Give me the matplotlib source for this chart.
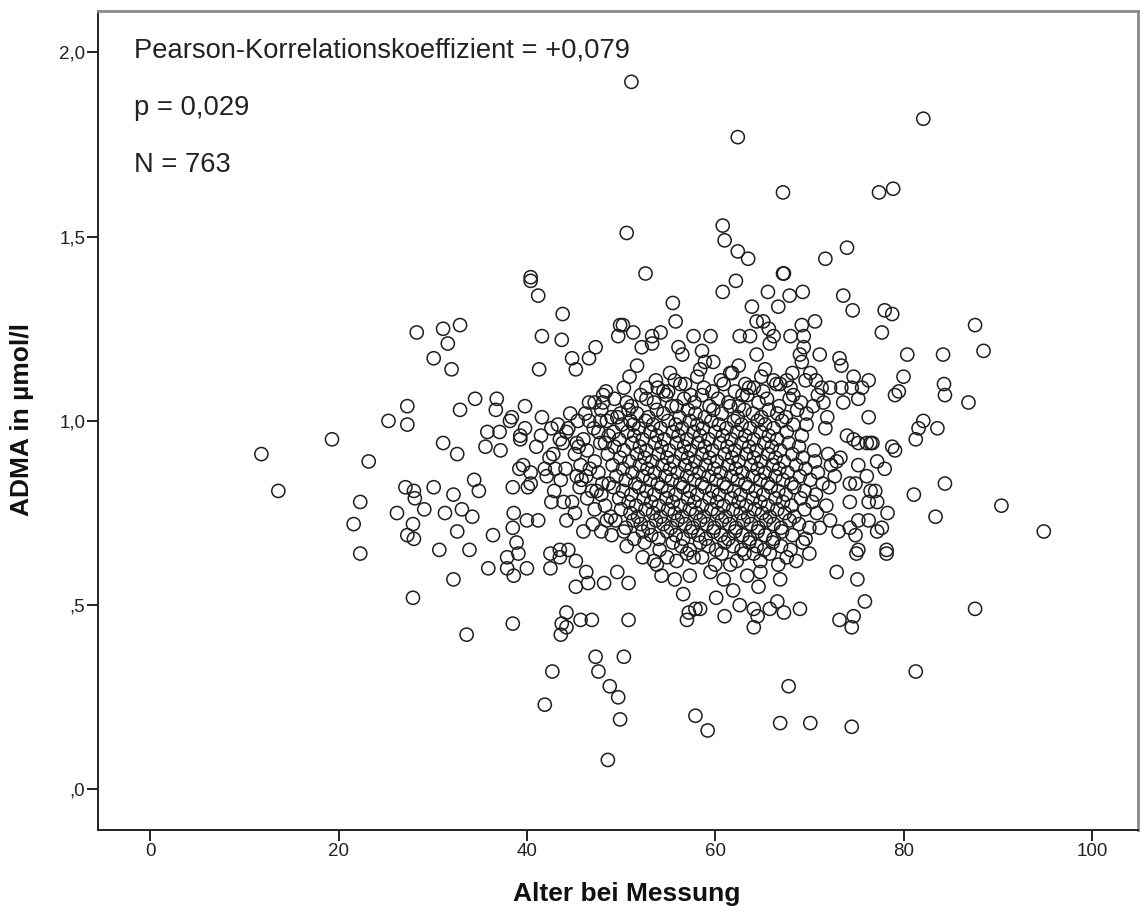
import matplotlib
matplotlib.use("Agg")
import matplotlib.pyplot as plt

plt.rcParams['font.family'] = ['Liberation Sans', 'DejaVu Sans']

# (Alter, ADMA) pairs, grouped by region of the cloud
jung = [
    (11.8, 0.91), (13.6, 0.81), (19.3, 0.95), (21.6, 0.72), (22.3, 0.78), (22.3, 0.64),
    (23.2, 0.89), (25.3, 1.00), (26.2, 0.75), (27.1, 0.82), (27.3, 1.04), (27.3, 0.99),
    (27.3, 0.69), (27.9, 0.72), (27.9, 0.52), (28.0, 0.81), (28.0, 0.68), (28.1, 0.79),
    (28.3, 1.24), (29.1, 0.76), (30.1, 1.17), (30.1, 0.82), (30.7, 0.65), (31.1, 1.25),
    (31.1, 0.94), (31.3, 0.75), (31.6, 1.21), (32.0, 1.14), (32.2, 0.80), (32.2, 0.57),
    (32.6, 0.91), (32.6, 0.70), (32.9, 1.26), (32.9, 1.03), (33.1, 0.76), (33.6, 0.42),
    (33.9, 0.65), (34.2, 0.74), (34.4, 0.84), (34.5, 1.06), (34.9, 0.81), (35.6, 0.93),
    (35.8, 0.97), (35.9, 0.60), (36.4, 0.69), (36.7, 1.03), (36.8, 1.06), (37.1, 0.97),
    (37.2, 0.92), (37.9, 0.63), (37.9, 0.60), (38.2, 1.00), (38.4, 1.01), (38.5, 0.82),
    (38.5, 0.71), (38.5, 0.45), (38.6, 0.75), (38.6, 0.58), (38.9, 0.67), (39.1, 0.64),
    (39.2, 0.87), (39.3, 0.96), (39.3, 0.95), (39.6, 0.88), (39.8, 1.04), (39.8, 0.98),
    (40.0, 0.73), (40.0, 0.60), (40.1, 0.82),
]

vierziger = [
    (40.4, 1.39), (40.4, 1.38), (41.2, 1.34), (41.6, 1.23), (43.8, 1.29), (43.7, 1.22),
    (41.3, 1.14), (44.8, 1.17), (45.2, 1.14), (46.6, 1.17), (47.3, 1.20), (49.9, 1.26),
    (49.7, 1.23), (46.6, 1.05), (48.1, 1.07), (48.1, 1.05), (46.2, 1.02), (46.6, 1.00),
    (47.8, 1.00), (41.6, 1.01), (42.6, 0.98), (44.4, 0.98), (43.5, 0.95), (45.3, 0.94),
    (45.5, 0.93), (42.8, 0.91), (47.8, 0.94), (49.2, 0.97), (49.6, 1.01), (49.9, 1.02),
    (40.4, 0.86), (40.4, 0.83), (41.9, 0.87), (42.1, 0.85), (44.1, 0.87), (45.3, 0.85),
    (45.8, 0.84), (46.7, 0.87), (42.6, 0.78), (44.8, 0.78), (46.9, 0.81), (47.4, 0.81),
    (48.7, 0.83), (41.2, 0.73), (44.2, 0.73), (46.0, 0.70), (47.9, 0.70), (48.5, 0.73),
    (43.5, 0.65), (44.4, 0.65), (42.5, 0.64), (42.5, 0.60), (43.5, 0.63), (45.2, 0.62),
    (46.3, 0.59), (45.2, 0.55), (46.5, 0.56), (48.2, 0.56), (49.6, 0.59), (44.2, 0.48),
    (43.7, 0.45), (44.2, 0.44), (43.6, 0.42), (45.7, 0.46), (46.9, 0.46), (47.3, 0.36),
    (47.6, 0.32), (42.7, 0.32), (48.8, 0.28), (49.7, 0.25), (41.9, 0.23), (49.9, 0.19),
    (48.6, 0.08),
]

fuenfziger_rand = [
    (51.1, 1.92), (50.6, 1.51), (52.6, 1.40), (55.5, 1.32), (55.8, 1.27), (50.2, 1.26),
    (51.3, 1.24), (53.3, 1.23), (54.2, 1.24), (57.7, 1.23), (59.5, 1.23), (52.2, 1.20),
    (53.3, 1.21), (51.7, 1.15), (56.1, 1.20), (56.5, 1.18), (58.6, 1.19), (58.9, 1.16),
    (59.8, 1.16), (58.4, 1.14), (52.7, 1.09), (54.5, 1.08), (55.7, 1.11), (50.6, 1.05),
    (51.3, 0.99), (50.8, 0.56), (50.8, 0.46), (50.3, 0.36), (53.5, 0.62), (54.9, 0.63),
    (53.8, 0.61), (54.3, 0.58), (55.7, 0.57), (56.6, 0.53), (57.3, 0.58), (57.7, 0.63),
    (57.2, 0.48), (57.0, 0.46), (58.4, 0.49), (57.9, 0.49), (57.9, 0.20), (59.2, 0.16),
    (59.5, 0.59), (60.1, 0.52),
]

sechziger_rand = [
    (62.4, 1.77), (67.2, 1.62), (60.8, 1.53), (61.0, 1.49), (62.4, 1.46), (63.5, 1.44),
    (67.2, 1.40), (67.3, 1.40), (60.8, 1.35), (62.2, 1.38), (71.7, 1.44), (74.0, 1.47),
    (65.6, 1.35), (67.9, 1.34), (69.3, 1.35), (66.7, 1.31), (63.9, 1.31), (73.6, 1.34),
    (74.6, 1.30), (64.4, 1.27), (65.1, 1.27), (65.7, 1.25), (69.2, 1.26), (70.6, 1.27),
    (62.6, 1.23), (63.7, 1.23), (66.2, 1.23), (68.0, 1.23), (69.4, 1.23), (65.8, 1.21),
    (69.4, 1.20), (69.0, 1.18), (69.2, 1.16), (64.4, 1.18), (62.5, 1.15), (65.3, 1.14),
    (61.6, 1.13), (62.1, 1.08), (64.1, 1.09), (66.2, 1.11), (67.6, 1.11), (68.3, 1.07),
    (69.6, 1.11), (70.1, 1.13), (60.9, 0.57), (61.0, 0.47), (61.9, 0.54), (63.4, 0.58),
    (64.8, 0.59), (64.6, 0.55), (62.6, 0.50), (64.1, 0.49), (64.5, 0.47), (64.1, 0.44),
    (65.8, 0.49), (66.9, 0.57), (66.6, 0.51), (67.3, 0.48), (69.0, 0.49), (61.6, 0.61),
    (64.1, 0.64), (67.8, 0.28), (66.9, 0.18), (70.1, 0.18),
]

alt = [
    (72.9, 0.59), (75.1, 0.57), (75.9, 0.51), (73.2, 0.46), (74.7, 0.47), (74.5, 0.44),
    (87.6, 0.49), (81.3, 0.32), (74.5, 0.17), (78.2, 0.64), (75.0, 0.64), (77.7, 1.24),
    (87.6, 1.26), (88.5, 1.19), (80.4, 1.18), (84.2, 1.18), (80.0, 1.12), (79.5, 1.08),
    (79.1, 1.07), (84.3, 1.10), (84.4, 1.07), (86.9, 1.05), (76.3, 1.01), (82.1, 1.00),
    (81.6, 0.98), (83.6, 0.98), (81.3, 0.95), (78.8, 0.93), (79.1, 0.92), (76.5, 0.94),
    (76.7, 0.94), (77.2, 0.89), (78.0, 0.87), (84.4, 0.83), (81.1, 0.80), (90.4, 0.77),
    (83.4, 0.74), (94.9, 0.70), (78.3, 0.75), (78.2, 0.65), (77.7, 0.71), (77.2, 0.70),
    (71.1, 1.18), (73.2, 1.17), (73.4, 1.15), (74.7, 1.12), (76.3, 1.11), (71.3, 1.09),
    (72.2, 1.09), (73.4, 1.09), (74.5, 1.09), (75.6, 1.09), (73.6, 1.05), (75.2, 1.06),
    (70.4, 1.04), (71.5, 1.05), (71.9, 1.01), (69.7, 1.02), (71.7, 0.98), (69.7, 0.99),
    (74.0, 0.96), (74.7, 0.95), (75.2, 0.94), (76.1, 0.94), (75.2, 0.88), (76.1, 0.85),
    (74.3, 0.83), (74.9, 0.83), (76.5, 0.81), (77.0, 0.81), (77.2, 0.78), (74.3, 0.78),
    (76.3, 0.78), (73.3, 0.90), (72.9, 0.89), (75.2, 0.73), (76.3, 0.73), (74.3, 0.71),
    (74.9, 0.69), (75.2, 0.65), (73.1, 0.70), (72.2, 0.73), (71.1, 0.71), (82.1, 1.82),
    (77.4, 1.62), (78.9, 1.63), (78.0, 1.30), (78.8, 1.29),
]

# dense core, upper part (ADMA 0.95 - 1.13)
kern_oben = [
    (50.9, 1.12), (53.7, 1.11), (55.2, 1.13), (56.8, 1.10), (58.1, 1.12), (60.6, 1.11),
    (61.8, 1.13), (63.2, 1.10), (64.9, 1.12), (66.5, 1.10), (68.2, 1.13), (70.7, 1.11),
    (48.4, 1.08), (50.3, 1.09), (52.1, 1.07), (53.9, 1.09), (55.0, 1.08), (56.3, 1.10),
    (57.4, 1.07), (58.8, 1.09), (59.7, 1.08), (60.9, 1.10), (62.9, 1.07), (63.6, 1.09),
    (65.1, 1.08), (66.9, 1.10), (68.0, 1.09), (70.9, 1.07),
    (47.2, 1.05), (49.3, 1.06), (51.1, 1.04), (52.7, 1.06), (53.5, 1.05), (54.8, 1.07),
    (55.9, 1.04), (56.7, 1.06), (57.8, 1.05), (58.6, 1.07), (59.4, 1.04), (60.3, 1.06),
    (61.4, 1.05), (62.5, 1.04), (63.4, 1.07), (64.6, 1.05), (65.5, 1.06), (66.8, 1.04),
    (67.9, 1.06), (69.1, 1.05),
    (44.6, 1.02), (47.9, 1.03), (49.0, 1.01), (50.8, 1.03), (51.7, 1.02), (52.9, 1.01),
    (53.8, 1.03), (54.5, 1.02), (55.4, 1.04), (56.2, 1.01), (57.1, 1.03), (57.9, 1.02),
    (58.9, 1.01), (59.8, 1.03), (60.7, 1.02), (61.6, 1.04), (62.4, 1.01), (63.1, 1.03),
    (64.0, 1.02), (64.9, 1.01), (65.7, 1.03), (66.6, 1.02), (67.5, 1.01), (68.7, 1.03),
    (43.3, 0.99), (45.4, 1.00), (47.1, 0.98), (48.5, 1.00), (50.1, 0.99), (51.0, 1.00),
    (51.9, 0.98), (52.6, 1.00), (53.4, 0.99), (54.2, 0.98), (55.0, 1.00), (55.8, 0.99),
    (56.5, 0.98), (57.3, 1.00), (58.1, 0.99), (58.7, 0.98), (59.6, 1.00), (60.4, 0.99),
    (61.2, 0.98), (62.0, 1.00), (62.8, 0.99), (63.7, 0.98), (64.5, 1.00), (65.3, 0.99),
    (66.2, 0.98), (67.1, 1.00), (68.3, 0.99),
    (41.5, 0.96), (44.2, 0.97), (46.0, 0.95), (47.6, 0.97), (48.7, 0.96), (49.8, 0.95),
    (50.7, 0.97), (51.4, 0.96), (52.3, 0.95), (53.1, 0.97), (53.8, 0.96), (54.6, 0.95),
    (55.5, 0.97), (56.1, 0.96), (57.0, 0.95), (57.7, 0.97), (58.4, 0.96), (59.3, 0.95),
    (60.0, 0.97), (60.8, 0.96), (61.7, 0.95), (62.3, 0.97), (63.2, 0.96), (64.1, 0.95),
    (64.8, 0.97), (65.7, 0.96), (66.6, 0.95), (67.6, 0.97), (69.2, 0.96),
]

# dense core, middle part (ADMA 0.80 - 0.95)
kern_mitte = [
    (41.0, 0.93), (43.8, 0.94), (46.4, 0.92), (48.3, 0.94), (49.3, 0.93), (50.3, 0.92),
    (51.2, 0.94), (52.0, 0.93), (52.7, 0.92), (53.6, 0.94), (54.3, 0.93), (55.1, 0.92),
    (55.9, 0.94), (56.7, 0.93), (57.4, 0.92), (58.2, 0.94), (58.9, 0.93), (59.7, 0.92),
    (60.5, 0.94), (61.3, 0.93), (62.1, 0.92), (62.8, 0.94), (63.6, 0.93), (64.4, 0.92),
    (65.2, 0.94), (66.0, 0.93), (66.9, 0.92), (67.8, 0.94), (68.9, 0.93), (70.5, 0.92),
    (42.4, 0.90), (45.1, 0.91), (47.2, 0.89), (48.6, 0.91), (49.9, 0.90), (50.9, 0.89),
    (51.7, 0.91), (52.5, 0.90), (53.3, 0.89), (54.0, 0.91), (54.9, 0.90), (55.6, 0.89),
    (56.4, 0.91), (57.1, 0.90), (57.9, 0.89), (58.6, 0.91), (59.4, 0.90), (60.2, 0.89),
    (61.0, 0.91), (61.8, 0.90), (62.5, 0.89), (63.3, 0.91), (64.1, 0.90), (64.9, 0.89),
    (65.6, 0.91), (66.4, 0.90), (67.3, 0.89), (68.2, 0.91), (69.3, 0.90), (70.6, 0.89),
    (72.0, 0.91),
    (43.0, 0.87), (45.7, 0.88), (47.6, 0.86), (49.1, 0.88), (50.2, 0.87), (51.2, 0.86),
    (52.0, 0.88), (52.8, 0.87), (53.6, 0.86), (54.4, 0.88), (55.2, 0.87), (56.0, 0.86),
    (56.8, 0.88), (57.5, 0.87), (58.3, 0.86), (59.0, 0.88), (59.9, 0.87), (60.6, 0.86),
    (61.4, 0.88), (62.2, 0.87), (62.9, 0.86), (63.8, 0.88), (64.5, 0.87), (65.3, 0.86),
    (66.1, 0.88), (66.8, 0.87), (67.7, 0.86), (68.6, 0.88), (69.6, 0.87), (70.9, 0.86),
    (72.3, 0.88),
    (43.6, 0.84), (46.3, 0.85), (48.0, 0.83), (49.5, 0.85), (50.5, 0.84), (51.5, 0.83),
    (52.3, 0.85), (53.1, 0.84), (53.9, 0.83), (54.7, 0.85), (55.4, 0.84), (56.3, 0.83),
    (57.0, 0.85), (57.8, 0.84), (58.6, 0.83), (59.3, 0.85), (60.1, 0.84), (60.9, 0.83),
    (61.7, 0.85), (62.4, 0.84), (63.2, 0.83), (64.0, 0.85), (64.8, 0.84), (65.6, 0.83),
    (66.4, 0.85), (67.2, 0.84), (68.1, 0.83), (69.0, 0.85), (70.1, 0.84), (71.4, 0.83),
    (72.7, 0.85),
    (42.9, 0.81), (45.6, 0.82), (47.9, 0.80), (49.2, 0.82), (50.2, 0.81), (51.1, 0.80),
    (51.9, 0.82), (52.7, 0.81), (53.5, 0.80), (54.3, 0.82), (55.0, 0.81), (55.8, 0.80),
    (56.6, 0.82), (57.3, 0.81), (58.1, 0.80), (58.9, 0.82), (59.7, 0.81), (60.4, 0.80),
    (61.2, 0.82), (62.0, 0.81), (62.7, 0.80), (63.5, 0.82), (64.3, 0.81), (65.1, 0.80),
    (65.9, 0.82), (66.7, 0.81), (67.5, 0.80), (68.4, 0.82), (69.5, 0.81), (70.7, 0.80),
    (72.1, 0.82),
]

# dense core, lower part (ADMA 0.61 - 0.80)
kern_unten = [
    (43.9, 0.78), (46.4, 0.79), (48.3, 0.77), (49.8, 0.79), (50.8, 0.78), (51.6, 0.77),
    (52.4, 0.79), (53.2, 0.78), (54.0, 0.77), (54.8, 0.79), (55.5, 0.78), (56.3, 0.77),
    (57.1, 0.79), (57.8, 0.78), (58.6, 0.77), (59.4, 0.79), (60.2, 0.78), (60.9, 0.77),
    (61.7, 0.79), (62.5, 0.78), (63.3, 0.77), (64.0, 0.79), (64.8, 0.78), (65.6, 0.77),
    (66.4, 0.79), (67.2, 0.78), (68.1, 0.77), (69.1, 0.79), (70.3, 0.78), (71.8, 0.77),
    (45.1, 0.75), (47.2, 0.76), (48.9, 0.74), (50.0, 0.76), (51.0, 0.75), (51.8, 0.74),
    (52.6, 0.76), (53.4, 0.75), (54.2, 0.74), (55.0, 0.76), (55.7, 0.75), (56.5, 0.74),
    (57.3, 0.76), (58.0, 0.75), (58.8, 0.74), (59.6, 0.76), (60.3, 0.75), (61.1, 0.74),
    (61.9, 0.76), (62.7, 0.75), (63.5, 0.74), (64.2, 0.76), (65.0, 0.75), (65.8, 0.74),
    (66.6, 0.76), (67.4, 0.75), (68.4, 0.74), (69.5, 0.76), (70.8, 0.75),
    (47.0, 0.72), (49.4, 0.73), (50.5, 0.71), (51.3, 0.73), (52.1, 0.72), (52.9, 0.71),
    (53.7, 0.73), (54.5, 0.72), (55.3, 0.71), (56.0, 0.73), (56.8, 0.72), (57.6, 0.71),
    (58.4, 0.73), (59.1, 0.72), (59.9, 0.71), (60.7, 0.73), (61.5, 0.72), (62.2, 0.71),
    (63.0, 0.73), (63.8, 0.72), (64.6, 0.71), (65.4, 0.73), (66.2, 0.72), (67.0, 0.71),
    (67.9, 0.73), (68.9, 0.72), (70.0, 0.71),
    (49.0, 0.69), (50.3, 0.70), (51.4, 0.68), (52.3, 0.70), (53.2, 0.69), (54.0, 0.68),
    (54.9, 0.70), (55.8, 0.69), (56.6, 0.68), (57.4, 0.70), (58.2, 0.69), (59.0, 0.68),
    (59.8, 0.70), (60.6, 0.69), (61.4, 0.68), (62.1, 0.70), (62.9, 0.69), (63.7, 0.68),
    (64.5, 0.70), (65.3, 0.69), (66.2, 0.68), (67.1, 0.70), (68.2, 0.69), (69.6, 0.68),
    (50.6, 0.66), (52.5, 0.67), (54.1, 0.65), (55.5, 0.67), (56.4, 0.66), (57.3, 0.65),
    (58.4, 0.67), (59.3, 0.66), (60.1, 0.65), (61.0, 0.67), (61.9, 0.66), (62.8, 0.65),
    (63.6, 0.67), (64.4, 0.66), (65.2, 0.65), (66.1, 0.67), (67.0, 0.66), (68.0, 0.65),
    (69.3, 0.67),
    (52.3, 0.63), (55.9, 0.62), (57.0, 0.64), (58.6, 0.63), (60.0, 0.61), (60.7, 0.64),
    (62.3, 0.62), (63.1, 0.64), (64.8, 0.62), (65.8, 0.64), (66.7, 0.61), (67.6, 0.63),
    (68.6, 0.62), (70.0, 0.64),
]

gruppen = [jung, vierziger, fuenfziger_rand, sechziger_rand, alt,
           kern_oben, kern_mitte, kern_unten]
alter = [a for g in gruppen for a, _ in g]
adma = [v for g in gruppen for _, v in g]

x_ticks = [0, 20, 40, 60, 80, 100]
y_ticks = [0.0, 0.5, 1.0, 1.5, 2.0]
y_tick_labels = [",0", ",5", "1,0", "1,5", "2,0"]

statistik = ["Pearson-Korrelationskoeffizient = +0,079", "p = 0,029",
             f"N = {len(alter)}"]

fig = plt.figure(figsize=(11.4, 9.18), dpi=100)
ax = fig.add_axes([0.0864, 0.0959, 0.9118, 0.8924])

ax.scatter(alter, adma, s=90, facecolors='none', edgecolors='#1e1e1e',
           linewidths=1.1, zorder=3)

ax.set_xlim(-5.5, 104.9)
ax.set_ylim(-0.11, 2.113)
ax.set_xticks(x_ticks)
ax.set_xticklabels([str(t) for t in x_ticks])
ax.set_yticks(y_ticks)
ax.set_yticklabels(y_tick_labels)
ax.tick_params(axis='both', direction='out', length=8, width=1.4,
               color='#222222', labelsize=13.5, labelcolor='#222222', pad=1.5)

for side in ['left', 'bottom']:
    ax.spines[side].set_linewidth(1.4)
    ax.spines[side].set_color('#222222')
for side in ['top', 'right']:
    ax.spines[side].set_linewidth(2.0)
    ax.spines[side].set_color('#8a8a8a')

for txt, yf in zip(statistik, [0.9431, 0.8727, 0.8031]):
    ax.text(0.0342, yf, txt, transform=ax.transAxes, fontsize=19.7,
            color='#222222', ha='left', va='baseline')

fig.text(0.55, 0.018, "Alter bei Messung", fontsize=19, fontweight='bold',
         ha='center', va='baseline', color='#111111')
fig.text(0.0193, 0.5425, "ADMA in µmol/l", fontsize=19, fontweight='bold',
         rotation=90, ha='center', va='center', color='#111111')

fig.savefig("out.png", dpi=100, facecolor='white')
